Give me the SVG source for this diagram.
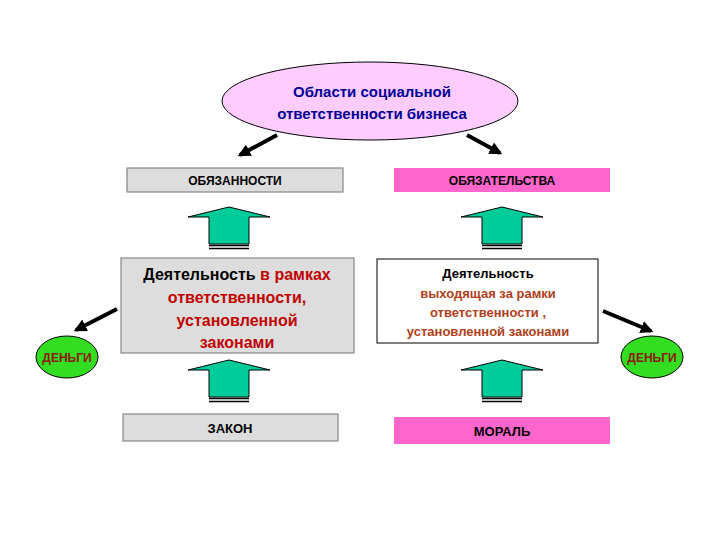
<svg xmlns="http://www.w3.org/2000/svg" width="720" height="540" viewBox="0 0 720 540">
<defs>
<style>
text{font-family:"Liberation Sans",Arial,sans-serif;font-weight:bold;text-anchor:middle}
.gray{fill:#dddddd;stroke:#888;stroke-width:1.2}
.pink{fill:#ff66cc}
.green{fill:#00cc99;stroke:#000;stroke-width:1}
.blk{stroke:#000;stroke-width:4;fill:none;marker-end:url(#ah)}
.money{fill:#33dd22;stroke:#000;stroke-width:1}
</style>
<marker id="ah" viewBox="0 0 10 10" refX="8" refY="5" markerWidth="3.2" markerHeight="3.2" orient="auto" markerUnits="strokeWidth"><path d="M0,0 L10,5 L0,10 z" fill="#000"/></marker>
<g id="garrow"><path class="green" d="M-41,10 L0,0 L41,10 L20,10 L20,37 L-20,37 L-20,10 Z"/><path d="M-20,38.5 H20 M-20,41.5 H20" stroke="#000" stroke-width="1.3"/></g>
</defs>
<rect width="720" height="540" fill="#fff"/>
<g id="connectors">
<line class="blk" x1="277" y1="135" x2="240" y2="155"/>
<line class="blk" x1="467" y1="135" x2="500" y2="153"/>
<line class="blk" x1="117" y1="309" x2="76" y2="330"/>
<line class="blk" x1="603" y1="311" x2="651" y2="331"/>
<use href="#garrow" x="229" y="207"/>
<use href="#garrow" x="502" y="207"/>
<use href="#garrow" x="229" y="360"/>
<use href="#garrow" x="502" y="360"/>
</g>
<g id="root"><ellipse cx="370" cy="101" rx="148" ry="39" fill="#ffccff" stroke="#000"/>
<text x="372" y="97" font-size="15" fill="#000099">Области социальной</text>
<text x="372" y="119" font-size="15" fill="#000099">ответственности бизнеса</text></g>
<g id="obyaz"><rect class="gray" x="127" y="168" width="216" height="24"/><text x="235" y="185" font-size="12">ОБЯЗАННОСТИ</text></g>
<g id="obyazat"><rect class="pink" x="394" y="168" width="216" height="24"/><text x="502" y="185" font-size="12">ОБЯЗАТЕЛЬСТВА</text></g>
<g id="act1"><rect class="gray" x="121" y="258" width="233" height="95"/>
<text x="237" y="280" font-size="16" font-weight="normal"><tspan fill="#000">Деятельность </tspan><tspan fill="#c00000">в рамках</tspan></text>
<text x="237" y="303" font-size="16" font-weight="normal" fill="#c00000">ответственности,</text>
<text x="237" y="326" font-size="16" font-weight="normal" fill="#c00000">установленной</text>
<text x="237" y="348" font-size="16" font-weight="normal" fill="#c00000">законами</text></g>
<g id="act2"><rect x="377" y="259" width="221" height="84" fill="#fff" stroke="#000"/>
<text x="488" y="278" font-size="13" fill="#000">Деятельность</text>
<text x="488" y="298" font-size="13" fill="#b0401a">выходящая за рамки</text>
<text x="488" y="317" font-size="13" fill="#b0401a">ответственности ,</text>
<text x="488" y="336" font-size="13" fill="#b0401a">установленной законами</text></g>
<g id="money1"><ellipse class="money" cx="67" cy="357" rx="31" ry="21"/><text x="67" y="362" font-size="12" fill="#8b1a00">ДЕНЬГИ</text></g>
<g id="money2"><ellipse class="money" cx="652" cy="357" rx="31" ry="21"/><text x="652" y="362" font-size="12" fill="#8b1a00">ДЕНЬГИ</text></g>
<g id="zakon"><rect class="gray" x="123" y="414" width="215" height="27"/><text x="230" y="433" font-size="13" font-weight="normal">ЗАКОН</text></g>
<g id="moral"><rect class="pink" x="394" y="417" width="216" height="27"/><text x="502" y="436" font-size="13">МОРАЛЬ</text></g>
</svg>
